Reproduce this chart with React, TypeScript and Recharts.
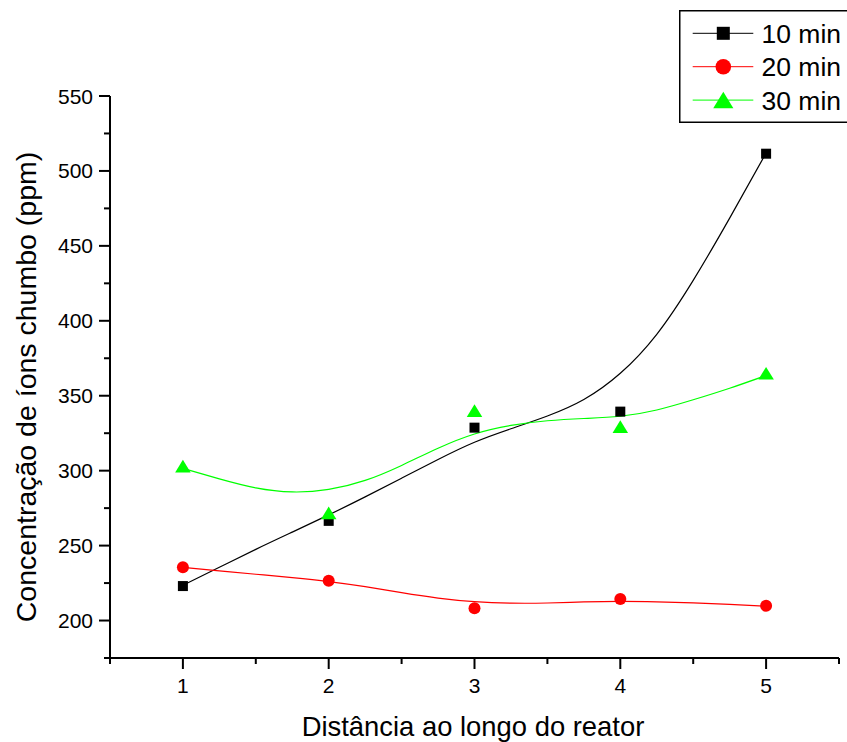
import React from 'react';
import { ComposedChart, Line, Scatter, XAxis, YAxis, Legend } from 'recharts';

const FONT = '"Liberation Sans", Arial, Helvetica, sans-serif';

// Measured points
const xPoints = [1, 2, 3, 4, 5];
const pts10 = [223, 266.5, 328.7, 339.4, 511.5];
const pts20 = [235.6, 226.5, 208.2, 214.3, 209.8];
const pts30 = [303, 271.8, 340, 329.4, 365];

// Fitted curves
const fitX = [1, 1.25, 1.5, 1.75, 2, 2.25, 2.5, 2.75, 3, 3.25, 3.5, 3.75, 4, 4.25, 4.5, 4.75, 5];
const fit10 = [223.5, 235.5, 247.5, 259, 270.5, 282.5, 295, 307.5, 319, 328, 336.5, 347.5, 365, 391, 427, 468.5, 512];
const fit20 = [235.5, 233.2, 230.9, 228.6, 226, 222.6, 218.6, 215, 212.6, 211.6, 211.7, 212.4, 212.8, 212.5, 211.8, 210.8, 209.6];
const fit30 = [301.5, 294.5, 288.5, 285.8, 287.5, 293.5, 303.5, 315, 324.5, 330.2, 333.3, 334.8, 336.3, 340.5, 347.3, 355, 363.5];

const xTicks = [0.5, 1, 1.5, 2, 2.5, 3, 3.5, 4, 4.5, 5, 5.5];
const yTicks = [175, 200, 225, 250, 275, 300, 325, 350, 375, 400, 425, 450, 475, 500, 525, 550];

const seriesNames = ['10 min', '20 min', '30 min'];
const seriesColors = ['#000000', '#ff0000', '#00ff00'];
const seriesShapes = ['square', 'circle', 'triangle'];

const toXY = (xs: number[], ys: number[]) => xs.map((x, i) => ({ x, y: ys[i] }));

const pointSets = [toXY(xPoints, pts10), toXY(xPoints, pts20), toXY(xPoints, pts30)];
const fitSets = [toXY(fitX, fit10), toXY(fitX, fit20), toXY(fitX, fit30)];

const Marker = ({ cx, cy, shape, color, scale = 1 }: any) => {
  if (cx == null || cy == null) return null;
  if (shape === 'square') {
    const s = 10 * scale;
    return <rect x={cx - s / 2} y={cy - s / 2} width={s} height={s} fill={color} />;
  }
  if (shape === 'circle') {
    return <circle cx={cx} cy={cy} r={6 * scale} fill={color} />;
  }
  const w = 15.5 * scale;
  const h = 12.7 * scale;
  return (
    <polygon
      points={`${cx},${cy - h / 2} ${cx + w / 2},${cy + h / 2} ${cx - w / 2},${cy + h / 2}`}
      fill={color}
    />
  );
};

const XTick = (props: any) => {
  const { x, y, payload } = props;
  const v = payload.value;
  const major = Math.abs(v - Math.round(v)) < 1e-6;
  return (
    <g>
      <line x1={x} x2={x} y1={y} y2={y + (major ? 11 : 6)} stroke="#000" strokeWidth={2} />
      {major && (
        <text x={x} y={y + 35} textAnchor="middle" fontSize={21} fill="#000" fontFamily={FONT}>
          {v}
        </text>
      )}
    </g>
  );
};

const YTick = (props: any) => {
  const { x, y, payload } = props;
  const v = payload.value;
  const major = v % 50 === 0;
  return (
    <g>
      <line x1={x - (major ? 11 : 6)} x2={x} y1={y} y2={y} stroke="#000" strokeWidth={2} />
      {major && (
        <text x={x - 17} y={y + 7.5} textAnchor="end" fontSize={21} fill="#000" fontFamily={FONT}>
          {v}
        </text>
      )}
    </g>
  );
};

const YTitle = () => (
  <text
    x={35.5}
    y={387}
    transform="rotate(-90, 35.5, 387)"
    textAnchor="middle"
    fontSize={28.5}
    fill="#000"
    fontFamily={FONT}
  >
    Concentração de íons chumbo (ppm)
  </text>
);

const XTitle = () => (
  <text x={473} y={736} textAnchor="middle" fontSize={27.4} fill="#000" fontFamily={FONT}>
    Distância ao longo do reator
  </text>
);

const renderLegend = () => (
  <svg width={168} height={114} style={{ display: 'block' }}>
    <rect x={0.75} y={0.75} width={200} height={111.5} fill="#fff" stroke="#000" strokeWidth={1.5} />
    {seriesNames.map((name, i) => {
      const cy = 23.3 + i * 33.4;
      return (
        <g key={name}>
          <line x1={13.7} x2={74.3} y1={cy} y2={cy} stroke={seriesColors[i]} strokeWidth={1} />
          <Marker cx={44.3} cy={cy} shape={seriesShapes[i]} color={seriesColors[i]} scale={1.3} />
          <text x={82.5} y={cy + 9.5} fontSize={26.5} fill="#000" fontFamily={FONT}>
            {name}
          </text>
        </g>
      );
    })}
  </svg>
);

export default function App() {
  return (
    <div style={{ position: 'absolute', left: 0, top: 0, width: 847, height: 742, background: '#fff' }}>
      <ComposedChart
        width={847}
        height={742}
        margin={{ top: 96, right: 8, bottom: 0, left: 0 }}
        style={{ fontFamily: FONT }}
      >
        <XAxis
          dataKey="x"
          type="number"
          domain={[0.5, 5.5]}
          ticks={xTicks}
          interval={0}
          height={84}
          tickSize={0}
          tickMargin={0}
          tickLine={false}
          tick={<XTick />}
          axisLine={{ stroke: '#000', strokeWidth: 2 }}
          allowDataOverflow
          label={<XTitle />}
        />
        <YAxis
          dataKey="y"
          type="number"
          domain={[175, 550]}
          ticks={yTicks}
          interval={0}
          width={110}
          tickSize={0}
          tickMargin={0}
          tickLine={false}
          tick={<YTick />}
          axisLine={{ stroke: '#000', strokeWidth: 2 }}
          allowDataOverflow
          label={<YTitle />}
        />
        {fitSets.map((d, i) => (
          <Line
            key={'fit' + i}
            data={d}
            dataKey="y"
            type="natural"
            stroke={seriesColors[i]}
            strokeWidth={1.2}
            dot={false}
            activeDot={false}
            isAnimationActive={false}
            legendType="none"
          />
        ))}
        {pointSets.map((d, i) => (
          <Scatter
            key={'pts' + i}
            name={seriesNames[i]}
            data={d}
            isAnimationActive={false}
            shape={(p: any) => <Marker cx={p.cx} cy={p.cy} shape={seriesShapes[i]} color={seriesColors[i]} />}
          />
        ))}
        <Legend
          layout="vertical"
          align="center"
          verticalAlign="middle"
          wrapperStyle={{ left: 679, top: 10, width: 168, height: 114 }}
          content={renderLegend}
        />
      </ComposedChart>
    </div>
  );
}
